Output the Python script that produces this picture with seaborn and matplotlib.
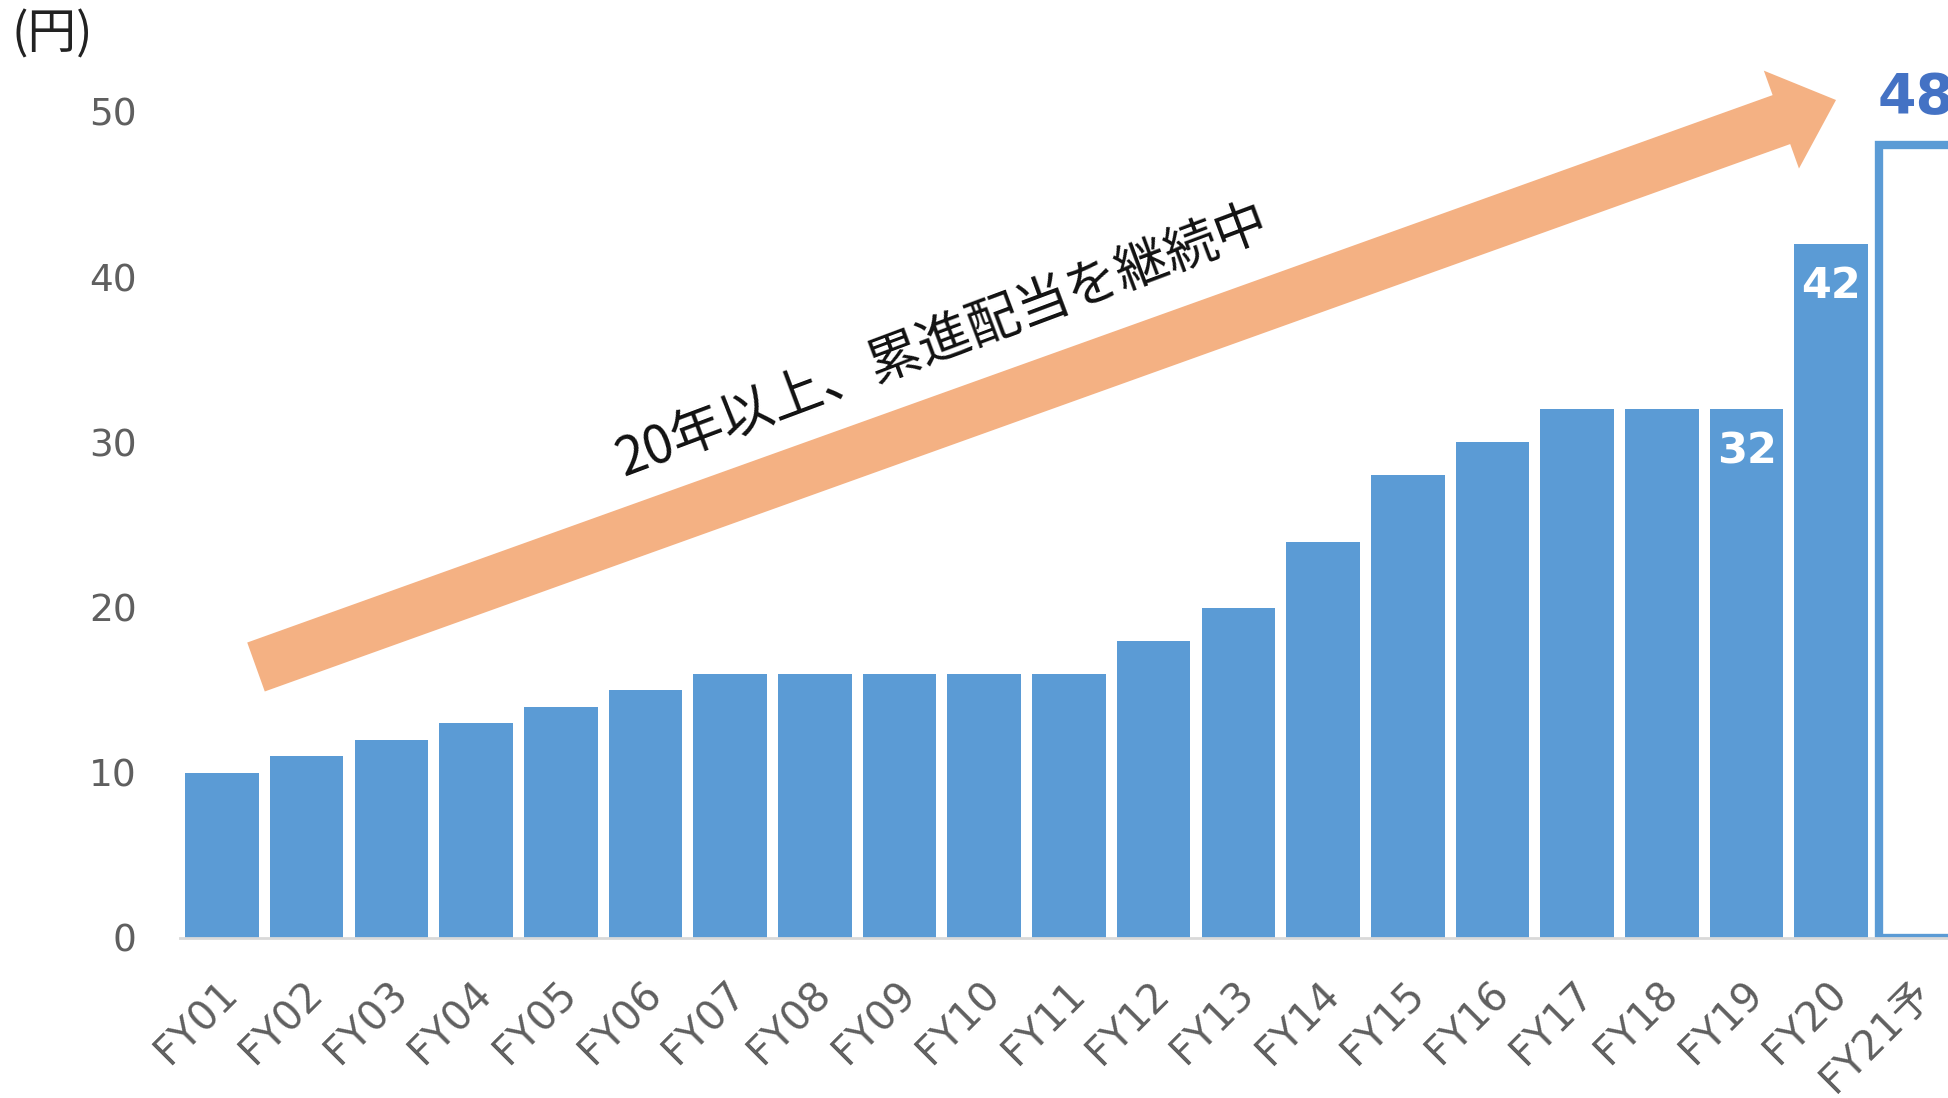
import matplotlib
matplotlib.use("Agg")
import matplotlib.pyplot as plt
import seaborn as sns
from matplotlib.patches import FancyArrow
from matplotlib.transforms import ScaledTranslation

# Dividend per share (yen), FY01 .. FY21 forecast
years = ["FY01", "FY02", "FY03", "FY04", "FY05", "FY06", "FY07", "FY08", "FY09", "FY10",
         "FY11", "FY12", "FY13", "FY14", "FY15", "FY16", "FY17", "FY18", "FY19", "FY20", "FY21予"]
dividends = [10, 11, 12, 13, 14, 15, 16, 16, 16, 16,
             16, 18, 20, 24, 28, 30, 32, 32, 32, 42, 48]
yticks = [0, 10, 20, 30, 40, 50]
labelled_inside = ["FY19", "FY20"]
forecast_year = "FY21予"
unit_label = "(円)"
message = "20年以上、累進配当を継続中"

BLUE = "#5B9BD5"
DARK_BLUE = "#4472C4"
ORANGE = "#F4B183"
GRAY = "#5F5F5F"

sns.set_theme(style="white")
plt.rcParams["font.family"] = ["DejaVu Sans", "Noto Sans CJK JP"]

W, H, DPI = 1948, 1098, 100
fig = plt.figure(figsize=(W / DPI, H / DPI), dpi=DPI)

# axes placed in pixels; the right side runs past the figure edge
ax_left, ax_bottom = 179.6, 160
ax_w, ax_h = 21 * 84.7, 55 * 16.52
ax = fig.add_axes([ax_left / W, ax_bottom / H, ax_w / W, ax_h / H])

sns.barplot(x=years, y=dividends, color=BLUE, saturation=1, width=0.87, ax=ax)
for patch in ax.patches:
    patch.set_edgecolor("none")
fc = ax.patches[years.index(forecast_year)]
fc.set_facecolor("white")
fc.set_edgecolor(BLUE)
fc.set_linewidth(6)

ax.set_xlim(-0.5, 20.5)
ax.set_ylim(0, 55)
ax.set_yticks(yticks)
ax.set_xlabel("")
ax.set_ylabel("")
for side in ["top", "right", "left"]:
    ax.spines[side].set_visible(False)
ax.spines["bottom"].set_color("#D9D9D9")
ax.spines["bottom"].set_linewidth(2)
ax.grid(False)

ax.tick_params(axis="y", length=0, pad=31, labelsize=27, labelcolor=GRAY)
ax.tick_params(axis="x", length=0, pad=36, labelsize=29, labelcolor=GRAY)
shift = ScaledTranslation(10 / DPI, 0, fig.dpi_scale_trans)
for lab in ax.get_xticklabels():
    lab.set_rotation(45)
    lab.set_ha("right")
    lab.set_va("center")
    lab.set_rotation_mode("anchor")
    lab.set_transform(lab.get_transform() + shift)

# value labels
for yr in labelled_inside:
    i = years.index(yr)
    ax.annotate(str(dividends[i]), xy=(i, dividends[i]), xytext=(0, -42),
                textcoords="offset pixels", ha="center", va="center",
                color="white", fontsize=31, fontweight="bold")
i = years.index(forecast_year)
ax.annotate(str(dividends[i]), xy=(i, dividends[i]), xytext=(0, 47),
            textcoords="offset pixels", ha="center", va="center",
            color=DARK_BLUE, fontsize=40, fontweight="bold")

# unit label
fig.text(12 / W, 1 - 35 / H, unit_label, ha="left", va="center",
         fontsize=35, color="#222222", family=["Noto Sans CJK JP"])

# trend arrow (figure pixels, via inches)
tail = (256, H - 667)
tip = (1836, H - 100)
arrow = FancyArrow(tail[0] / DPI, tail[1] / DPI,
                   (tip[0] - tail[0]) / DPI, (tip[1] - tail[1]) / DPI,
                   width=52 / DPI, head_width=104 / DPI, head_length=58 / DPI,
                   length_includes_head=True, color=ORANGE, linewidth=0,
                   transform=fig.dpi_scale_trans, zorder=5)
fig.add_artist(arrow)

fig.text(943 / DPI, (H - 341) / DPI, message, transform=fig.dpi_scale_trans,
         rotation=20.5, rotation_mode="anchor", ha="center", va="center",
         fontsize=38, color="#111111", family=["Noto Sans CJK JP"])

fig.savefig("out.png", dpi=DPI)
